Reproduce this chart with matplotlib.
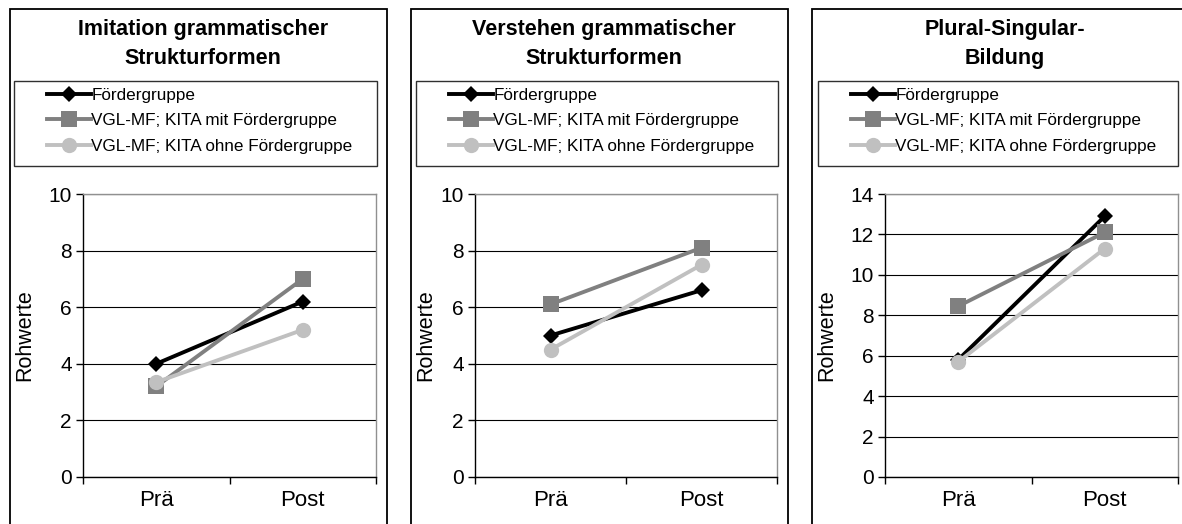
import matplotlib
matplotlib.use("Agg")
import matplotlib.pyplot as plt
import matplotlib.patches as mpatches
from matplotlib.lines import Line2D

W, H = 1182, 524

matplotlib.rcParams['font.family'] = 'sans-serif'
matplotlib.rcParams['font.sans-serif'] = ['Liberation Sans', 'DejaVu Sans']

categories = ["Prä", "Post"]
series_names = ["Fördergruppe",
                "VGL-MF; KITA mit Fördergruppe",
                "VGL-MF; KITA ohne Fördergruppe"]

titles = ["Imitation grammatischer\nStrukturformen",
          "Verstehen grammatischer\nStrukturformen",
          "Plural-Singular-\nBildung"]

# values per panel: Fördergruppe, KITA mit, KITA ohne
imitation_foerder = [4.0, 6.2]
imitation_mit = [3.2, 7.0]
imitation_ohne = [3.35, 5.2]

verstehen_foerder = [5.0, 6.6]
verstehen_mit = [6.1, 8.1]
verstehen_ohne = [4.5, 7.5]

plural_foerder = [5.8, 12.9]
plural_mit = [8.45, 12.1]
plural_ohne = [5.7, 11.3]

y_max = [10, 10, 14]

panel_data = [
    [imitation_foerder, imitation_mit, imitation_ohne],
    [verstehen_foerder, verstehen_mit, verstehen_ohne],
    [plural_foerder, plural_mit, plural_ohne],
]

styles = [
    dict(color="#000000", marker="D", markersize=8.5),
    dict(color="#808080", marker="s", markersize=11),
    dict(color="#C0C0C0", marker="o", markersize=11),
]

# pixel layout: panel border left/right, legend box, plot area
panel_x = [(10, 387), (411, 788), (812, 1189)]
legend_x = [(14, 377), (416, 778), (818, 1178)]
plot_x = [(83, 376), (475, 777), (885, 1178)]


def fig_rect(x0, y0, x1, y1):
    return [x0 / W, 1 - y1 / H, (x1 - x0) / W, (y1 - y0) / H]


def setup_axis(ax, ymax):
    ax.set_xlim(0.5, 2.5)
    ax.set_ylim(0, ymax)
    ax.set_yticks(range(0, ymax + 1, 2))
    ax.set_xticks([0.5, 1.5, 2.5])
    ax.set_xticklabels([])
    ax.set_xticks([1, 2], minor=True)
    ax.set_xticklabels(categories, minor=True)
    ax.tick_params(axis='x', which='minor', length=0, pad=9, labelsize=16)
    ax.tick_params(axis='x', which='major', direction='out', length=5,
                   width=1.0, color='#000000')
    ax.tick_params(axis='y', direction='out', length=5, width=1.0,
                   pad=3, labelsize=15)
    ax.grid(axis='y', color='#000000', linewidth=0.8)
    ax.set_axisbelow(True)
    for side in ('top', 'right'):
        ax.spines[side].set_color('#909090')
        ax.spines[side].set_linewidth(1.0)
    for side in ('left', 'bottom'):
        ax.spines[side].set_color('#000000')
        ax.spines[side].set_linewidth(1.0)
    ax.set_ylabel("Rohwerte", fontsize=15.5)


fig = plt.figure(figsize=(W / 100, H / 100), dpi=100)

for i in range(3):
    px0, px1 = panel_x[i]
    # panel border (runs off bottom of the picture)
    fig.patches.append(mpatches.Rectangle(
        (px0 / W, -0.1), (px1 - px0) / W, (1 - 9 / H) + 0.1,
        transform=fig.transFigure, fill=False, edgecolor='#000000',
        linewidth=1.3))
    # title
    fig.text((px0 + 193) / W, 1 - 44 / H, titles[i], ha='center',
             va='center', fontsize=15.5, fontweight='bold',
             linespacing=1.45)
    # legend box
    lx0, lx1 = legend_x[i]
    fig.patches.append(mpatches.Rectangle(
        (lx0 / W, 1 - 166 / H), (lx1 - lx0) / W, 85 / H,
        transform=fig.transFigure, fill=False, edgecolor='#303030',
        linewidth=1.0))
    handles = [Line2D([], [], linewidth=2.8, markeredgewidth=0, **st)
               for st in styles]
    fig.legend(handles, series_names, loc='upper left',
               bbox_to_anchor=((lx0 + 33) / W, 1 - 88 / H),
               frameon=False, fontsize=12.3, handlelength=2.55,
               handletextpad=0.05, labelspacing=0.6, borderpad=0,
               borderaxespad=0, numpoints=1)

    # plot area
    ax0, ax1 = plot_x[i]
    ax = fig.add_axes(fig_rect(ax0, 194, ax1, 477))
    setup_axis(ax, y_max[i])
    ax.yaxis.set_label_coords(((px0 + 25) - ax0) / (ax1 - ax0), 0.5)
    for vals, st in zip(panel_data[i], styles):
        ax.plot([1, 2], vals, linewidth=2.8, markeredgewidth=0,
                clip_on=False, zorder=3, **st)

fig.savefig("out.png", dpi=100)
